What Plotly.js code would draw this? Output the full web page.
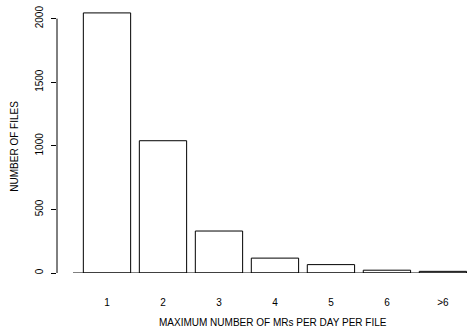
<!DOCTYPE html>
<html>
<head>
<meta charset="utf-8">
<script src="https://cdn.plot.ly/plotly-3.0.1.min.js"></script>
<style>html,body{margin:0;padding:0;background:#fff;}#chart{width:467px;height:332px;}</style>
</head>
<body>
<div id="chart"></div>
<script>
const categories = ["1", "2", "3", "4", "5", "6", ">6"];
const fileCounts = [2045, 1040, 330, 117, 66, 22, 13];
const yTickValues = [0, 500, 1000, 1500, 2000];
const yTickLabels = ["0", "500", "1000", "1500", "2000"];
const xTitle = "MAXIMUM NUMBER OF MRs PER DAY PER FILE";
const yTitle = "NUMBER OF FILES";

const font = {family: "Liberation Sans, Arial, sans-serif", size: 10, color: "#000"};

const trace = {
  type: "bar",
  x: categories,
  y: fileCounts,
  marker: {color: "#fff", line: {color: "#000", width: 1}},
  hoverinfo: "none"
};

const layout = {
  width: 467,
  height: 332,
  margin: {l: 57, r: 0, t: 11.4, b: 58.5},
  paper_bgcolor: "#fff",
  plot_bgcolor: "rgba(0,0,0,0)",
  showlegend: false,
  bargap: 0.155,
  font: font,
  xaxis: {
    type: "category",
    range: [-0.893, 6.43],
    showline: false,
    showgrid: false,
    zeroline: false,
    ticks: "",
    ticklabelstandoff: 22,
    tickfont: font,
    fixedrange: true
  },
  yaxis: {
    range: [0, 2060],
    tickvals: yTickValues,
    ticktext: yTickLabels,
    tickangle: -90,
    ticks: "outside",
    ticklen: 5,
    tickcolor: "#000",
    tickwidth: 1,
    showline: false,
    showgrid: false,
    zeroline: false,
    ticklabelstandoff: 4,
    tickfont: font,
    fixedrange: true
  },
  shapes: [
    {type: "line", xref: "paper", yref: "y", x0: 0.039, x1: 1, y0: 0, y1: 0,
     line: {color: "#000", width: 1}},
    {type: "line", xref: "paper", yref: "y", x0: 0, x1: 0, y0: yTickValues[0], y1: yTickValues[yTickValues.length - 1],
     line: {color: "#000", width: 1}}
  ],
  annotations: [
    {text: xTitle, xref: "paper", yref: "paper", x: 0.527, y: -0.19, yanchor: "middle",
     showarrow: false, font: font},
    {text: yTitle, xref: "paper", yref: "paper", x: -0.103, y: 0.485, xanchor: "center",
     textangle: -90, showarrow: false, font: font}
  ]
};

Plotly.newPlot("chart", [trace], layout, {staticPlot: true, displayModeBar: false});
</script>
</body>
</html>
